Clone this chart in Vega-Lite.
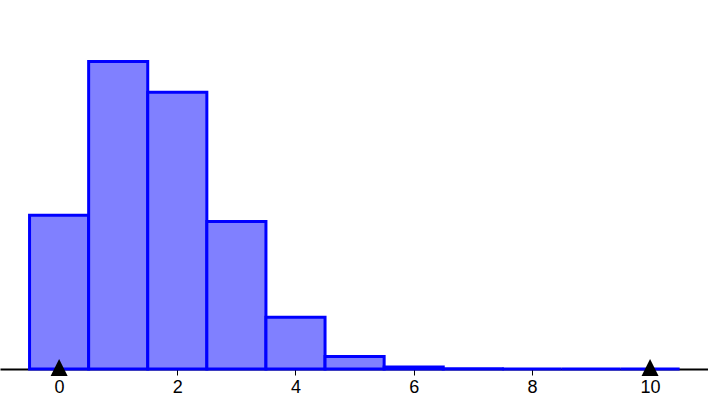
{
  "$schema": "https://vega.github.io/schema/vega-lite/v6.json",
  "width": 708,
  "height": 369,
  "padding": 0,
  "autosize": {"type": "pad"},
  "config": {"view": {"stroke": null}, "font": "Liberation Sans"},
  "datasets": {
    "bars": [
      {"k": 0, "lo": -0.5, "hi": 0.5, "p": 0.1615},
      {"k": 1, "lo": 0.5, "hi": 1.5, "p": 0.3230},
      {"k": 2, "lo": 1.5, "hi": 2.5, "p": 0.2907},
      {"k": 3, "lo": 2.5, "hi": 3.5, "p": 0.1550},
      {"k": 4, "lo": 3.5, "hi": 4.5, "p": 0.0543},
      {"k": 5, "lo": 4.5, "hi": 5.5, "p": 0.0130},
      {"k": 6, "lo": 5.5, "hi": 6.5, "p": 0.0022},
      {"k": 7, "lo": 6.5, "hi": 7.5, "p": 0.0002},
      {"k": 8, "lo": 7.5, "hi": 8.5, "p": 0.0},
      {"k": 9, "lo": 8.5, "hi": 9.5, "p": 0.0},
      {"k": 10, "lo": 9.5, "hi": 10.5, "p": 0.0}
    ],
    "marks": [{"x": 0, "y": 0}, {"x": 10, "y": 0}]
  },
  "layer": [
    {
      "data": {"name": "bars"},
      "mark": {"type": "rect", "fill": "#8080ff", "stroke": "#0000ff", "strokeWidth": 3},
      "encoding": {
        "x": {"field": "lo", "type": "quantitative", "scale": {"domain": [-1, 10.98], "nice": false, "zero": false},
          "axis": {"title": null, "values": [0, 2, 4, 6, 8, 10], "format": "d", "grid": false, "domainColor": "black", "domainWidth": 2,
            "tickColor": "black", "tickSize": 6, "tickWidth": 1, "labelFontSize": 18, "labelColor": "black", "labelPadding": 3, "labelFont": "Liberation Sans"}},
        "x2": {"field": "hi"},
        "y": {"field": "p", "type": "quantitative", "scale": {"domain": [0, 0.3876], "nice": false}, "axis": null},
        "y2": {"datum": 0}
      }
    },
    {
      "data": {"name": "marks"},
      "mark": {"type": "point", "shape": "M0,-1L-1,1L1,1Z", "filled": true, "color": "black", "size": 289, "yOffset": -1.5, "opacity": 1, "strokeWidth": 0},
      "encoding": {
        "x": {"field": "x", "type": "quantitative"},
        "y": {"field": "y", "type": "quantitative"}
      }
    }
  ]
}
